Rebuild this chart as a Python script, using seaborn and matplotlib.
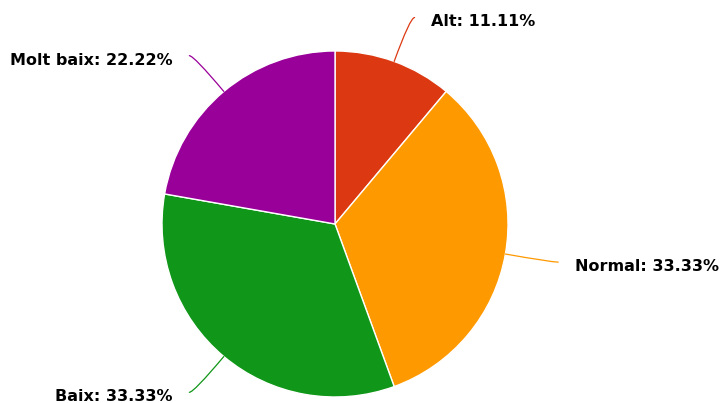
import numpy as np
import matplotlib
matplotlib.use('Agg')
import matplotlib.pyplot as plt
import seaborn as sns

# Data
labels = ['Alt', 'Normal', 'Baix', 'Molt baix']
counts = [1, 3, 3, 2]
colors = ['#dc3912', '#ff9900', '#109618', '#990099']

sns.set_theme(style='white')
plt.rcParams['font.family'] = ['DejaVu Sans']

fig = plt.figure(figsize=(7.21, 4.03), dpi=100)
# pie centred at (335, 224) px with radius ~173 px
ax = fig.add_axes([0.2247, 0.0149, 0.4799, 0.8586])

wedges, _ = ax.pie(counts, colors=colors, startangle=90, counterclock=False,
                   radius=1.0, wedgeprops=dict(edgecolor='white', linewidth=1))
ax.set_xlim(-1, 1)
ax.set_ylim(-1, 1)
ax.set_aspect('equal')
ax.axis('off')

total = sum(counts)
for w, lab, n, col in zip(wedges, labels, counts, colors):
    mid = np.deg2rad((w.theta1 + w.theta2) / 2)
    cx, cy = np.cos(mid), np.sin(mid)
    ex, ey = 1.31 * cx, 1.27 * cy
    if cx >= 0:
        ex = max(ex, 0.46)
    ax.annotate('', xy=(cx, cy), xytext=(ex, ey),
                arrowprops=dict(arrowstyle='-', color=col, lw=0.9,
                                shrinkA=0, shrinkB=0,
                                connectionstyle=f'angle3,angleA=0,angleB={np.rad2deg(mid):.1f}'),
                annotation_clip=False)
    side = 1 if cx >= 0 else -1
    ax.text(ex + side * 0.095, ey - 0.025, f'{lab}: {100 * n / total:.2f}%',
            ha='left' if side > 0 else 'right', va='center',
            fontsize=11.5, fontweight='bold', color='black', clip_on=False)

fig.savefig('out.png', dpi=100)
